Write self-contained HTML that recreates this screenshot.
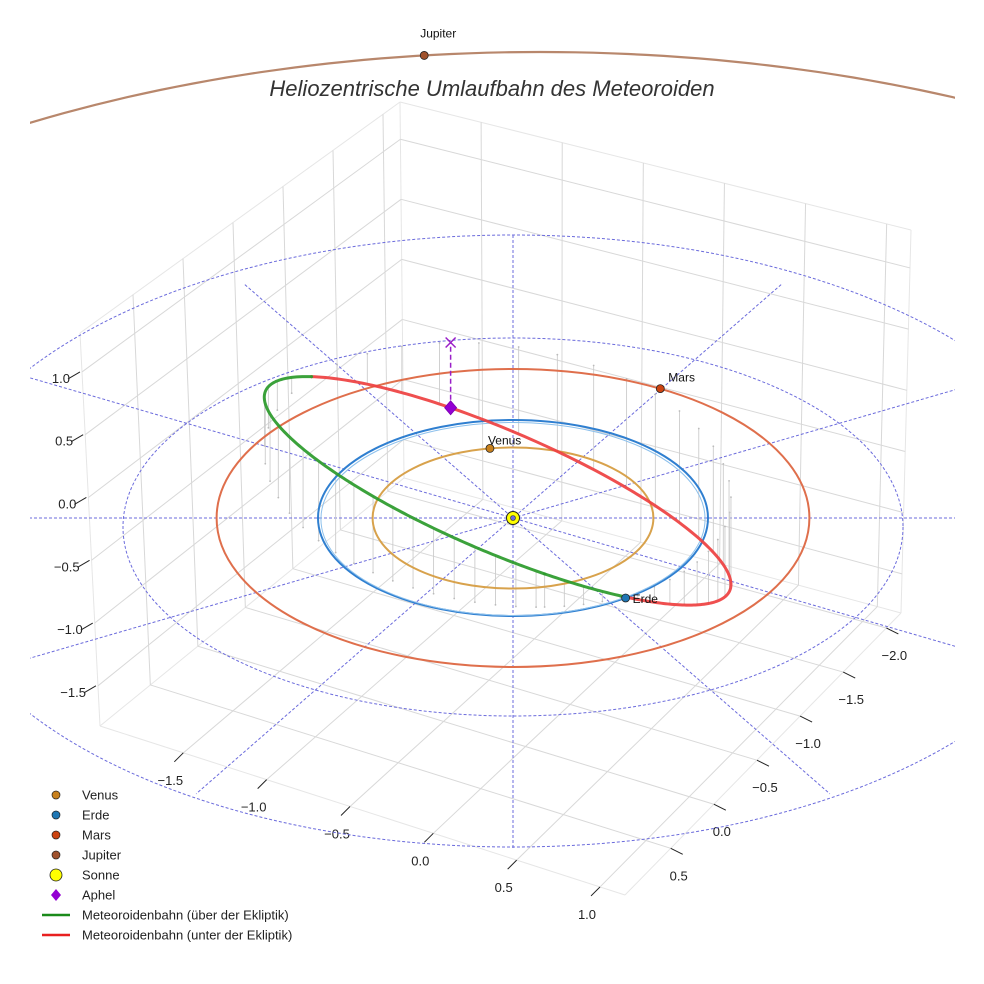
<!DOCTYPE html>
<html><head><meta charset="utf-8">
<style>
html,body{margin:0;padding:0;background:#fff;overflow:hidden;width:984px;height:984px;}
svg{display:block;font-family:"Liberation Sans",sans-serif;}
</style></head>
<body>
<svg id="chart" width="984" height="984" viewBox="0 0 984 984" xmlns="http://www.w3.org/2000/svg">
<defs><clipPath id="axclip"><rect x="30" y="0" width="925" height="984"/></clipPath></defs>
<rect x="0" y="0" width="984" height="984" fill="#fff"/>
<g id="grid"></g>
<g id="ref" clip-path="url(#axclip)"></g>
<g id="drops"></g>
<g id="orbits" clip-path="url(#axclip)"></g>
<g id="meteor"></g>
<g id="marks"></g>
<text x="492" y="96" text-anchor="middle" font-size="22" font-style="italic" fill="#333">Heliozentrische Umlaufbahn des Meteoroiden</text>
<g id="legend"></g>
</svg>
<script>
// ---- data ----
const xTicks = [-1.5, -1.0, -0.5, 0.0, 0.5, 1.0];
const yTicks = [-2.0, -1.5, -1.0, -0.5, 0.0, 0.5];
const zTicks = [-1.5, -1.0, -0.5, 0.0, 0.5, 1.0];
const xRange = [-2.0, 1.15];
const yRange = [-2.17, 1.03];
const zRange = [-1.82, 1.31];
const planetNames = ["Venus", "Erde", "Mars", "Jupiter"];
const planetRadii = [0.72, 1.0, 1.52, 5.2];
const planetX = [-0.547, 0.967, -0.270, -3.78];
const planetY = [-0.468, 0.254, -1.497, -3.58];
const refRadii = [2, 3];
const spokeAngles = [0, 30, 60, 90, 120, 150];
const orbitA = [1.42];
const orbitE = [0.327];
const periDir = [0.741, 0.619, 0.275];
const perpDir = [0.651, -0.583, -0.486];

// ---- projection ----
const NS = "http://www.w3.org/2000/svg";
const CX = 513, CY = 518, SU = 195, SV = 98, SZ = 126;
const C40 = Math.cos(40 * Math.PI / 180), S40 = Math.sin(40 * Math.PI / 180);
function toPlane(x, y) { return [C40 * x - S40 * y, S40 * x + C40 * y]; }
function proj(x, y, z) { const p = toPlane(x, y); return [CX + SU * p[0], CY + SV * p[1] - SZ * z]; }
function mk(tag, attrs, parent) {
  const el = document.createElementNS(NS, tag);
  for (const k in attrs) el.setAttribute(k, attrs[k]);
  parent.appendChild(el); return el;
}
const Bb = [404, 478], Bl = [100, 726], Br = [901, 613], Bf = [625, 895];
const Tb = [400, 102], Tl = [80, 333], Tr = [911, 230];
function lerp(a, b, t) { return [a[0] + (b[0] - a[0]) * t, a[1] + (b[1] - a[1]) * t]; }
const sx = x => (x - xRange[0]) / (xRange[1] - xRange[0]);
const sy = y => (y - yRange[0]) / (yRange[1] - yRange[0]);
const sz = z => (z - zRange[0]) / (zRange[1] - zRange[0]);

const grid = document.getElementById('grid');
function gline(p, q, col, w) {
  return mk('line', {x1: p[0], y1: p[1], x2: q[0], y2: q[1], stroke: col, 'stroke-width': w}, grid);
}
[[Bb, Bl], [Bb, Br], [Bl, Bf], [Br, Bf], [Bb, Tb], [Bl, Tl], [Br, Tr], [Tb, Tl], [Tb, Tr]].forEach(e => {
  const l = gline(e[0], e[1], '#e6e6e6', 1);
  
  
});
xTicks.forEach(v => {
  const s = sx(v);
  const a = lerp(Bb, Br, s), b = lerp(Bl, Bf, s), c = lerp(Tb, Tr, s);
  let l = gline(a, b, '#d8d8d8', 1);
  
  
  l = gline(a, c, '#d8d8d8', 1);
  
  
  const tk = mk('line', {x1: b[0], y1: b[1], x2: b[0] - 9, y2: b[1] + 9, stroke: '#222', 'stroke-width': 1}, grid);
  
  
  const tx = mk('text', {x: b[0] - 13, y: b[1] + 32, 'text-anchor': 'middle', 'font-size': 13, fill: '#222'}, grid);
  tx.textContent = v.toFixed(1).replace('-', '\u2212');
  
  
});
yTicks.forEach(v => {
  const t = sy(v);
  const a = lerp(Bb, Bl, t), b = lerp(Br, Bf, t), c = lerp(Tb, Tl, t);
  let l = gline(a, b, '#d8d8d8', 1);
  
  
  l = gline(a, c, '#d8d8d8', 1);
  
  
  const tk = mk('line', {x1: b[0], y1: b[1], x2: b[0] + 12, y2: b[1] + 6, stroke: '#222', 'stroke-width': 1}, grid);
  
  
  const tx = mk('text', {x: b[0] + 8, y: b[1] + 32, 'text-anchor': 'middle', 'font-size': 13, fill: '#222'}, grid);
  tx.textContent = v.toFixed(1).replace('-', '\u2212');
  
  
});
zTicks.forEach(v => {
  const w = sz(v);
  const a = lerp(Bb, Tb, w), b = lerp(Bl, Tl, w), c = lerp(Br, Tr, w);
  let l = gline(a, b, '#d8d8d8', 1);
  
  
  l = gline(a, c, '#d8d8d8', 1);
  
  
  const tk = mk('line', {x1: b[0] - 2, y1: b[1], x2: b[0] - 14, y2: b[1] + 7, stroke: '#222', 'stroke-width': 1}, grid);
  
  
  const tx = mk('text', {x: b[0] - 12, y: b[1] + 11, 'text-anchor': 'end', 'font-size': 13, fill: '#222'}, grid);
  tx.textContent = v.toFixed(1).replace('-', '\u2212');
  
  
});

// ---- reference circles & spokes ----
const ref = document.getElementById('ref');
const refShift = [9, 23], refScaleV = [94.5, 102];
refRadii.forEach((r, i) => {
  const e = mk('ellipse', {cx: CX, cy: CY + refShift[i], rx: SU * r, ry: refScaleV[i] * r, fill: 'none', stroke: '#6b6bdc', 'stroke-width': 1, 'stroke-dasharray': '3,2'}, ref);
  
  
});
spokeAngles.forEach(a => {
  const rad = a * Math.PI / 180;
  const L1 = (a === 60 || a === 120) ? 2.75 : 3.2;
  const L2 = (a === 60 || a === 120) ? 3.25 : 3.2;
  const ux = SU * Math.cos(rad), uy = SV * Math.sin(rad);
  let x1 = CX - ux * L1, y1 = CY - uy * L1, x2 = CX + ux * L2, y2 = CY + uy * L2;
  if (a === 90) { y1 = 235; y2 = 848; }
  const l = mk('line', {x1, y1, x2, y2, stroke: '#6b6bdc', 'stroke-width': 1, 'stroke-dasharray': '3,2'}, ref);
  
  
});

// ---- planet orbits ----
const orbits = document.getElementById('orbits');
const orbitColors = ['#d8a24c', '#2f7fd0', '#df6f4c', '#b8876c'];
planetRadii.forEach((r, i) => {
  if (i === 3) {
    const jp = [];
    for (let t = -121; t <= -65; t += 1) {
      const rad = t * Math.PI / 180;
      jp.push([(540 + 1014 * Math.cos(rad)).toFixed(1), (574 + 522 * Math.sin(rad)).toFixed(1)].join(','));
    }
    const e = mk('polyline', {points: jp.join(' '), fill: 'none', stroke: orbitColors[i], 'stroke-width': 2.2}, orbits);
    
    
    return;
  }
  const e = mk('ellipse', {cx: CX, cy: CY, rx: SU * r, ry: SV * r, fill: 'none', stroke: orbitColors[i], 'stroke-width': 2}, orbits);
  
  
  if (i === 1) {
    const e2 = mk('ellipse', {cx: CX, cy: CY + 1, rx: SU * r * 0.985, ry: SV * r * 0.985, fill: 'none', stroke: '#8cc0ec', 'stroke-width': 1}, orbits);
    
    
  }
});

// ---- meteoroid orbit ----
const meteor = document.getElementById('meteor');
const drops = document.getElementById('drops');
const a = orbitA[0], e = orbitE[0], p = a * (1 - e * e);
const pts = [];
for (let k = 0; k <= 360; k++) {
  const th = k * Math.PI / 180;
  const r = p / (1 + e * Math.cos(th));
  const c = Math.cos(th), s = Math.sin(th);
  pts.push([r * (c * periDir[0] + s * perpDir[0]), r * (c * periDir[1] + s * perpDir[1]), r * (c * periDir[2] + s * perpDir[2])]);
}
for (let k = 0; k < 360; k += 7) {
  const q = pts[k];
  const A = proj(q[0], q[1], q[2]), B = proj(q[0], q[1], 0);
  const l = mk('line', {x1: A[0], y1: A[1], x2: B[0], y2: B[1], stroke: '#cccccc', 'stroke-width': 0.9}, drops);
  
  
  const d = mk('circle', {cx: B[0], cy: B[1], r: 0.9, fill: '#bbb'}, drops);
  
  
}
let seg = [], segAbove = null;
function flush() {
  if (seg.length > 1) {
    const pl = mk('polyline', {points: seg.map(q => q.join(',')).join(' '), fill: 'none', stroke: segAbove ? '#2a9a2a' : '#ee4040', 'stroke-width': 3, 'stroke-linejoin': 'round', 'stroke-linecap': 'round', opacity: 0.92}, meteor);
    
    
  }
}
pts.forEach(q => {
  const above = q[2] >= 0;
  const sp = proj(q[0], q[1], q[2]);
  if (segAbove === null) segAbove = above;
  if (above !== segAbove) { seg.push(sp); flush(); seg = [sp]; segAbove = above; }
  else seg.push(sp);
});
flush();

// ---- markers ----
const marks = document.getElementById('marks');
const dotColors = ['#c8801c', '#1f77b4', '#cc4411', '#a0522d'];
const labelOff = [[-2, -4], [7, 5], [8, -7], [-4, -18]];
planetNames.forEach((n, i) => {
  let P;
  if (i === 3) {
    const pl = toPlane(planetX[i], planetY[i]);
    const ang = Math.atan2(pl[1], pl[0]);
    P = [540 + 1014 * Math.cos(ang), 574 + 522 * Math.sin(ang)];
  } else P = proj(planetX[i], planetY[i], 0);
  const c = mk('circle', {cx: P[0], cy: P[1], r: 4, fill: dotColors[i], stroke: '#222', 'stroke-width': 0.8}, marks);
  
  
  const t = mk('text', {x: P[0] + labelOff[i][0], y: P[1] + labelOff[i][1], 'font-size': 12, fill: '#111'}, marks);
  t.textContent = n;
  
  
});
const aph = [-a * (1 + e) * periDir[0], -a * (1 + e) * periDir[1], -a * (1 + e) * periDir[2]];
const AP = proj(aph[0], aph[1], aph[2]), AX = proj(aph[0], aph[1], 0);
let el = mk('line', {x1: AP[0], y1: AP[1], x2: AX[0], y2: AX[1], stroke: '#9a1fc8', 'stroke-width': 1.5, 'stroke-dasharray': '5,3'}, marks);


el = mk('path', {d: `M${AX[0]-5},${AX[1]-5}L${AX[0]+5},${AX[1]+5}M${AX[0]+5},${AX[1]-5}L${AX[0]-5},${AX[1]+5}`, stroke: '#9a1fc8', 'stroke-width': 1.5}, marks);


el = mk('path', {d: `M${AP[0]},${AP[1]-7}L${AP[0]+6},${AP[1]}L${AP[0]},${AP[1]+7}L${AP[0]-6},${AP[1]}Z`, fill: '#9400d3', stroke: '#7a00b0', 'stroke-width': 0.8}, marks);


const S = proj(0, 0, 0);
el = mk('circle', {cx: S[0], cy: S[1], r: 6.5, fill: '#ffff00', stroke: '#222', 'stroke-width': 1}, marks);


el = mk('circle', {cx: S[0], cy: S[1], r: 2.5, fill: '#6b6bdc', stroke: '#333', 'stroke-width': 0.6}, marks);



// ---- legend ----
const legend = document.getElementById('legend');
const legLabels = ['Venus', 'Erde', 'Mars', 'Jupiter', 'Sonne', 'Aphel', 'Meteoroidenbahn (über der Ekliptik)', 'Meteoroidenbahn (unter der Ekliptik)'];
const legColors = ['#c8801c', '#1f77b4', '#cc4411', '#a0522d', '#ffff00', '#9400d3', '#1a8a1a', '#e82020'];
legLabels.forEach((lab, i) => {
  const y = 795 + i * 20;
  let m;
  if (i < 4) m = mk('circle', {cx: 56, cy: y, r: 4, fill: legColors[i], stroke: '#222', 'stroke-width': 0.7}, legend);
  else if (i === 4) m = mk('circle', {cx: 56, cy: y, r: 6, fill: legColors[i], stroke: '#222', 'stroke-width': 0.8}, legend);
  else if (i === 5) m = mk('path', {d: `M56,${y-6}L61,${y}L56,${y+6}L51,${y}Z`, fill: legColors[i]}, legend);
  else m = mk('line', {x1: 42, y1: y, x2: 70, y2: y, stroke: legColors[i], 'stroke-width': 2.5}, legend);
  
  
  const t = mk('text', {x: 82, y: y + 4.5, 'font-size': 13, fill: '#222'}, legend);
  t.textContent = lab;
  
  
});
</script>
</body></html>
